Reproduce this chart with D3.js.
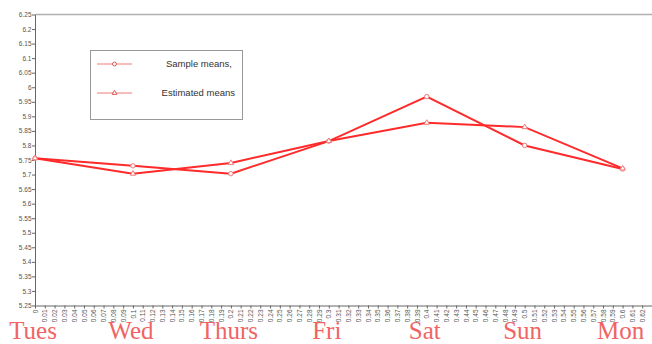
<!DOCTYPE html>
<html>
<head>
<meta charset="utf-8">
<script src="https://cdn.jsdelivr.net/npm/d3@7"></script>
<style>
  html, body { margin: 0; padding: 0; background: #fff; }
  svg { display: block; }
</style>
</head>
<body>
<svg id="chart" width="652" height="344"></svg>
<script>
// ---- data ----
const days = ["Tues", "Wed", "Thurs", "Fri", "Sat", "Sun", "Mon"];
const dayX = [0, 0.1, 0.2, 0.3, 0.4, 0.5, 0.6];
const sampleMeans = [5.756, 5.730, 5.703, 5.815, 5.968, 5.800, 5.719];
const estimatedMeans = [5.756, 5.703, 5.740, 5.815, 5.878, 5.863, 5.721];
const yTicks = d3.range(0, 21).map(i => +(5.25 + i * 0.05).toFixed(2));
const xTicks = d3.range(0, 63).map(i => +(i * 0.01).toFixed(2));
const legendLabels = ["Sample means,", "Estimated means"];

// ---- layout ----
const svg = d3.select("#chart");
const mLeft = 35, mRight = 652, mTop = 14.5, mBottom = 305.5;

const x = d3.scaleLinear().domain([0, 0.63]).range([mLeft, mRight]);
const y = d3.scaleLinear().domain([5.25, 6.25]).range([mBottom, mTop]);

const fmt = d => String(+d.toFixed(2));

// top border
svg.append("line")
  .attr("x1", mLeft).attr("x2", mRight)
  .attr("y1", mTop).attr("y2", mTop)
  .attr("stroke", "#b0b0b0").attr("stroke-width", 1.5);

// y axis
const yAxis = svg.append("g")
  .attr("transform", `translate(${mLeft},0)`)
  .call(d3.axisLeft(y).tickValues(yTicks).tickFormat(fmt).tickSize(3).tickSizeOuter(0));
yAxis.select(".domain").attr("stroke", "#666");
yAxis.selectAll(".tick line").attr("stroke", "#666");
yAxis.selectAll(".tick text")
  .attr("fill", "#555").attr("font-size", 6.5)
  .attr("font-family", "Liberation Sans, Arial, sans-serif")
  .attr("x", -3.5);

// x axis
const xAxis = svg.append("g")
  .attr("transform", `translate(0,${mBottom})`)
  .call(d3.axisBottom(x).tickValues(xTicks).tickFormat(fmt).tickSize(3).tickSizeOuter(0));
xAxis.select(".domain").attr("stroke", "#666");
xAxis.selectAll(".tick line").attr("stroke", "#666");
xAxis.selectAll(".tick text")
  .attr("fill", "#555").attr("font-size", 6.5)
  .attr("font-family", "Liberation Sans, Arial, sans-serif")
  .attr("transform", "rotate(-90)")
  .attr("text-anchor", "end")
  .attr("dy", "0.32em")
  .attr("x", -4).attr("y", 0);

// lines
const lineRed = "#ff2a2a";
const line = d3.line().x((d, i) => x(dayX[i])).y(d => y(d));

svg.append("path").datum(sampleMeans)
  .attr("d", line).attr("fill", "none")
  .attr("stroke", lineRed).attr("stroke-width", 2);
svg.append("path").datum(estimatedMeans)
  .attr("d", line).attr("fill", "none")
  .attr("stroke", lineRed).attr("stroke-width", 2);

// markers
const mk = "#f07a7a";
svg.append("g").selectAll("circle").data(sampleMeans).join("circle")
  .attr("cx", (d, i) => x(dayX[i])).attr("cy", d => y(d))
  .attr("r", 2.2).attr("fill", "#fff").attr("stroke", mk).attr("stroke-width", 1);
const tri = d3.symbol().type(d3.symbolTriangle).size(12);
svg.append("g").selectAll("path").data(estimatedMeans).join("path")
  .attr("d", tri)
  .attr("transform", (d, i) => `translate(${x(dayX[i])},${y(d)})`)
  .attr("fill", "#fff").attr("stroke", mk).attr("stroke-width", 1);

// legend
const lg = svg.append("g");
lg.append("rect")
  .attr("x", 90.5).attr("y", 50.5).attr("width", 152).attr("height", 69)
  .attr("fill", "#fff").attr("stroke", "#999").attr("stroke-width", 1);
const legY = [64, 93];
legendLabels.forEach((lab, i) => {
  lg.append("line")
    .attr("x1", 97).attr("x2", 132).attr("y1", legY[i]).attr("y2", legY[i])
    .attr("stroke", "#f07a7a").attr("stroke-width", 1.2);
  if (i === 0) {
    lg.append("circle").attr("cx", 114.5).attr("cy", legY[i]).attr("r", 2)
      .attr("fill", "#fff").attr("stroke", "#e05a5a").attr("stroke-width", 1);
  } else {
    lg.append("path").attr("d", d3.symbol().type(d3.symbolTriangle).size(10))
      .attr("transform", `translate(114.5,${legY[i]})`)
      .attr("fill", "#fff").attr("stroke", "#e05a5a").attr("stroke-width", 1);
  }
  lg.append("text")
    .attr("x", i === 0 ? 232 : 235).attr("y", legY[i]).attr("dy", "0.35em")
    .attr("text-anchor", "end")
    .attr("font-size", 9.5).attr("fill", "#333")
    .attr("font-family", "Liberation Sans, Arial, sans-serif")
    .text(lab);
});

// day labels
svg.append("g").selectAll("text").data(days).join("text")
  .attr("x", (d, i) => x(dayX[i]) - 2)
  .attr("y", 339)
  .attr("text-anchor", "middle")
  .attr("font-family", "Liberation Serif, Times New Roman, serif")
  .attr("font-size", 25)
  .attr("fill", "#f06464")
  .text(d => d);
</script>
</body>
</html>
